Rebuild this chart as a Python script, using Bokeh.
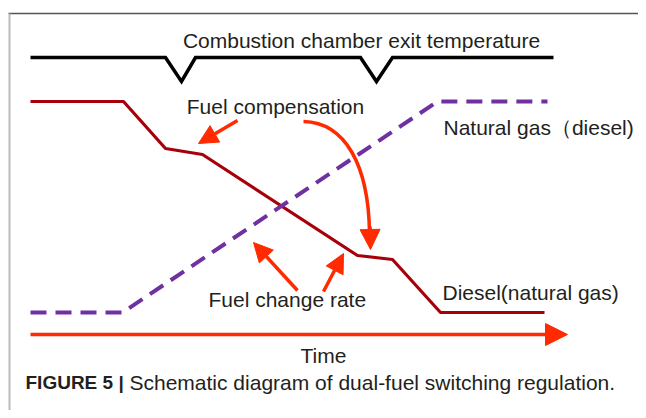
from bokeh.plotting import figure
from bokeh.models import Range1d, Arrow, NormalHead
from bokeh.core.properties import value
from bokeh.embed import file_html
from bokeh.resources import INLINE

# ---- schematic data (time position, level) ----
temp_t = [30, 165, 181, 195, 360, 376, 392, 553]
temp_v = [57, 57, 81, 57, 57, 81, 57, 57]

diesel_t = [30, 123, 165, 202, 357, 392, 440, 544]
diesel_v = [101, 101, 148, 154, 255, 259, 312, 312]

gas_t = [30, 122, 437, 547]
gas_v = [312, 312, 101, 101]

time_axis_t = [30, 567]
time_axis_v = [334, 334]

FONT = value("Liberation Sans")
TXT = "#231f20"

p = figure(width=638, height=410, x_range=Range1d(0, 638), y_range=Range1d(410, 0),
           output_backend="svg", toolbar_location=None, min_border=0)
p.axis.visible = False
p.grid.visible = False
p.outline_line_color = None
p.background_fill_color = "white"

# frame of the figure panel
p.segment(x0=[8], y0=[13], x1=[646], y1=[13], line_color="#555555", line_width=1.5)
p.segment(x0=[9], y0=[13], x1=[9], y1=[418], line_color="#bbbbbb", line_width=2)

# curves
p.line(temp_t, temp_v, line_color="black", line_width=3.5, line_join="miter")
p.line(diesel_t, diesel_v, line_color="#a8000a", line_width=3.2)
p.line(gas_t, gas_v, line_color="#7030a0", line_width=4, line_dash="16 9")

RED = "#ff2a00"
# time axis arrow
p.add_layout(Arrow(end=NormalHead(size=22, fill_color=RED, line_color=RED),
                   x_start=time_axis_t[0], y_start=time_axis_v[0],
                   x_end=time_axis_t[1], y_end=time_axis_v[1],
                   line_color=RED, line_width=3.5))

def arr(x0, y0, x1, y1, size=19):
    p.add_layout(Arrow(end=NormalHead(size=size, fill_color=RED, line_color=RED),
                       x_start=x0, y_start=y0, x_end=x1, y_end=y1,
                       line_color=RED, line_width=3.5))

arr(237, 120, 198, 143)
arr(297, 290, 253, 242)
arr(323, 291, 343, 253)

# curved arrow
p.bezier(x0=[303], y0=[121], x1=[369], y1=[232], cx0=[345], cy0=[122], cx1=[368], cy1=[165],
         line_color=RED, line_width=3.5)
arr(369.5, 226, 370, 249, size=20)

# labels (y = visual centre of the text)
def label(x, y, t, align="left", style="normal", size="21px"):
    p.text(x=[x], y=[y], text=[t], text_font=FONT, text_font_size=size,
           text_color=TXT, text_align=align, text_baseline="middle",
           text_font_style=style)

label(361, 40, "Combustion chamber exit temperature", align="center")
label(275, 106, "Fuel compensation", align="center")
label(443, 127, "Natural gas（diesel)")
label(442, 292, "Diesel(natural gas)")
label(208, 299, "Fuel change rate")
label(323, 355, "Time", align="center")
label(25, 382, "FIGURE 5 |", style="bold", size="19px")
label(129, 382, "Schematic diagram of dual-fuel switching regulation.")

open("out.html", "w").write(file_html(p, INLINE))
